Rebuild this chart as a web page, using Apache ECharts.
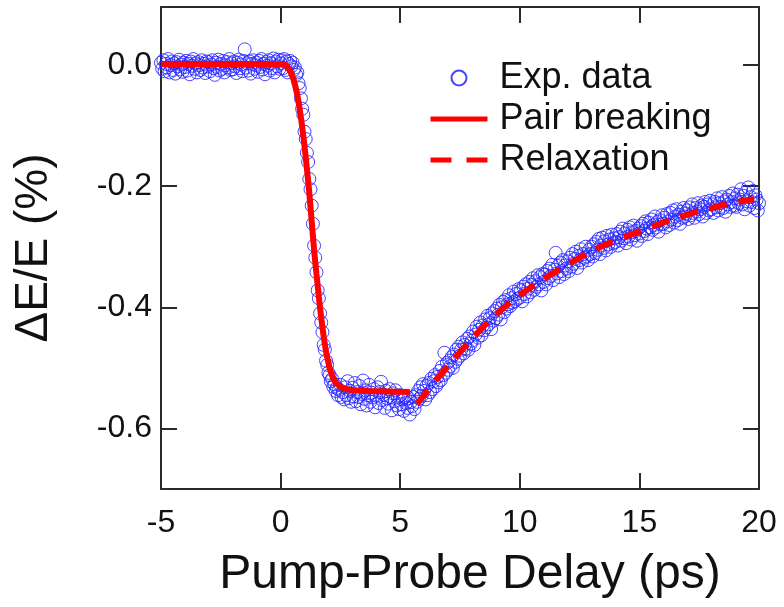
<!DOCTYPE html>
<html>
<head>
<meta charset="utf-8">
<script src="https://cdn.jsdelivr.net/npm/echarts@6/dist/echarts.min.js"></script>
<style>
  html, body { margin: 0; padding: 0; background: #fff; }
  #chart { width: 784px; height: 607px; }
</style>
</head>
<body>
<div id="chart"></div>
<script>
// Experimental trace: delay grid start/step (ps) and measured ΔE/E (%)
const expStart = -5;
const expStep = 0.05;
const expValues = [
  0.004, -0.006, 0.008, -0.010, 0.002, -0.004, 0.010, -0.012, 0.000, 0.006, -0.008, 0.003, -0.014, 0.005, -0.002, 0.009, -0.007, 0.001, -0.011, 0.004,
  -0.003, 0.007, -0.009, 0.002, -0.015, 0.006, -0.001, 0.010, -0.006, 0.003, -0.012, 0.005, 0.000, -0.008, 0.008, -0.004, 0.002, -0.013, 0.006, -0.002,
  0.005, -0.010, 0.001, 0.008, -0.005, -0.016, 0.004, -0.003, 0.009, -0.009, 0.002, -0.006, 0.007, -0.012, 0.000, 0.005, -0.004, 0.010, -0.008, 0.003,
  -0.007, 0.006, -0.002, -0.013, 0.004, 0.009, -0.005, 0.001, -0.010, 0.007, 0.026, -0.004, 0.003, -0.009, 0.006, -0.014, 0.002, 0.008, -0.006, 0.000,
  0.004, -0.011, 0.007, -0.003, 0.010, -0.007, 0.002, -0.015, 0.005, -0.001, 0.008, -0.009, 0.003, -0.005, 0.011, -0.012, 0.006, -0.002, 0.009, -0.006,
  0.003, 0.008, -0.005, 0.010, -0.008, 0.006, -0.012, 0.002, 0.007, -0.002, 0.004, -0.008, -0.004, -0.016, -0.012, -0.030, -0.038, -0.055, -0.072, -0.082,
  -0.110, -0.122, -0.145, -0.160, -0.188, -0.205, -0.232, -0.262, -0.298, -0.318, -0.342, -0.372, -0.385, -0.410, -0.425, -0.441, -0.462, -0.470, -0.488, -0.495,
  -0.508, -0.512, -0.522, -0.518, -0.531, -0.527, -0.538, -0.533, -0.545, -0.536, -0.528, -0.548, -0.540, -0.552, -0.532, -0.545, -0.522, -0.550, -0.538, -0.556,
  -0.533, -0.547, -0.525, -0.555, -0.540, -0.548, -0.530, -0.560, -0.543, -0.521, -0.551, -0.537, -0.562, -0.545, -0.528, -0.556, -0.541, -0.549, -0.535, -0.565,
  -0.546, -0.532, -0.558, -0.540, -0.523, -0.553, -0.544, -0.566, -0.538, -0.550, -0.559, -0.535, -0.548, -0.570, -0.542, -0.555, -0.537, -0.562, -0.549, -0.568,
  -0.545, -0.560, -0.552, -0.571, -0.548, -0.558, -0.566, -0.550, -0.577, -0.556, -0.563, -0.548, -0.568, -0.545, -0.556, -0.538, -0.551, -0.532, -0.546, -0.527,
  -0.538, -0.552, -0.530, -0.545, -0.525, -0.540, -0.518, -0.535, -0.522, -0.512, -0.530, -0.515, -0.524, -0.505, -0.520, -0.498, -0.512, -0.475, -0.508, -0.492,
  -0.503, -0.488, -0.497, -0.482, -0.500, -0.478, -0.490, -0.470, -0.485, -0.465, -0.480, -0.470, -0.458, -0.476, -0.462, -0.468, -0.452, -0.470, -0.448, -0.460,
  -0.455, -0.440, -0.462, -0.445, -0.432, -0.450, -0.437, -0.425, -0.446, -0.430, -0.438, -0.420, -0.433, -0.414, -0.428, -0.418, -0.436, -0.410, -0.422, -0.406,
  -0.418, -0.402, -0.412, -0.396, -0.420, -0.400, -0.391, -0.408, -0.388, -0.402, -0.395, -0.380, -0.398, -0.385, -0.392, -0.374, -0.390, -0.378, -0.386, -0.370,
  -0.384, -0.372, -0.390, -0.366, -0.378, -0.362, -0.382, -0.369, -0.358, -0.375, -0.363, -0.352, -0.371, -0.357, -0.366, -0.347, -0.362, -0.350, -0.372, -0.345,
  -0.358, -0.346, -0.362, -0.340, -0.352, -0.336, -0.348, -0.330, -0.355, -0.338, -0.310, -0.344, -0.332, -0.350, -0.326, -0.340, -0.322, -0.345, -0.331, -0.336,
  -0.324, -0.340, -0.318, -0.333, -0.312, -0.328, -0.320, -0.308, -0.335, -0.315, -0.322, -0.304, -0.326, -0.312, -0.318, -0.300, -0.316, -0.322, -0.305, -0.312,
  -0.300, -0.316, -0.296, -0.310, -0.292, -0.305, -0.287, -0.312, -0.298, -0.285, -0.302, -0.291, -0.306, -0.282, -0.296, -0.288, -0.300, -0.280, -0.294, -0.286,
  -0.292, -0.279, -0.298, -0.284, -0.275, -0.290, -0.270, -0.286, -0.278, -0.294, -0.272, -0.283, -0.268, -0.288, -0.276, -0.265, -0.281, -0.274, -0.290, -0.270,
  -0.278, -0.266, -0.282, -0.262, -0.274, -0.258, -0.270, -0.279, -0.260, -0.268, -0.255, -0.272, -0.264, -0.250, -0.268, -0.259, -0.275, -0.256, -0.263, -0.248,
  -0.262, -0.252, -0.268, -0.246, -0.258, -0.264, -0.244, -0.255, -0.240, -0.260, -0.250, -0.238, -0.256, -0.247, -0.262, -0.242, -0.252, -0.236, -0.250, -0.245,
  -0.240, -0.254, -0.235, -0.248, -0.230, -0.244, -0.252, -0.236, -0.242, -0.228, -0.246, -0.238, -0.232, -0.250, -0.234, -0.226, -0.244, -0.230, -0.240, -0.224,
  -0.238, -0.230, -0.244, -0.226, -0.235, -0.220, -0.240, -0.228, -0.234, -0.218, -0.236, -0.225, -0.242, -0.222, -0.230, -0.216, -0.234, -0.226, -0.212, -0.232,
  -0.220, -0.234, -0.214, -0.228, -0.222, -0.205, -0.230, -0.216, -0.238, -0.210, -0.225, -0.202, -0.232, -0.218, -0.226, -0.208, -0.236, -0.215, -0.222, -0.240,
  -0.228
];

// Pair-breaking fit (solid)
const pairDelay = [-5, -4, -3, -2, -1, -0.5, 0, 0.2, 0.3, 0.4, 0.5, 0.6, 0.7, 0.8, 0.9, 1.0, 1.1, 1.2, 1.3, 1.4, 1.5, 1.6, 1.7, 1.8, 1.9, 2.0, 2.1, 2.2, 2.3, 2.4, 2.6, 2.9, 3.5, 4.5, 5.4];
const pairValue = [0.002, 0.002, 0.002, 0.002, 0.002, 0.002, 0.001, 0.000, -0.004, -0.010, -0.019, -0.032, -0.050, -0.073, -0.101, -0.134, -0.171, -0.211, -0.258, -0.305, -0.345, -0.383, -0.418, -0.448, -0.473, -0.492, -0.507, -0.517, -0.524, -0.528, -0.533, -0.536, -0.538, -0.539, -0.540];

// Relaxation fit (dashed)
const relaxDelay = [5.7, 6.0, 6.5, 7.0, 7.5, 8.0, 8.5, 9.0, 9.5, 10.0, 10.5, 11.0, 11.5, 12.0, 12.5, 13.0, 13.5, 14.0, 14.5, 15.0, 15.5, 16.0, 16.5, 17.0, 17.5, 18.0, 18.5, 19.0, 19.5, 19.8];
const relaxValue = [-0.560, -0.545, -0.520, -0.497, -0.474, -0.452, -0.431, -0.412, -0.395, -0.380, -0.366, -0.353, -0.341, -0.329, -0.318, -0.307, -0.298, -0.289, -0.282, -0.275, -0.267, -0.260, -0.253, -0.247, -0.241, -0.236, -0.231, -0.227, -0.223, -0.221];

// Axis ticks
const xTicks = [-5, 0, 5, 10, 15, 20];
const yTicks = [-0.6, -0.4, -0.2, 0.0];

const FONT = "'Liberation Sans', Arial, Helvetica, sans-serif";
const INK = '#111';
const FRAME = '#2a2a2a';
const RED = '#ff0000';
const BLUE = '#2424ff';

const expData = expValues.map((v, i) => [+(expStart + i * expStep).toFixed(2), v]);
const pairData = pairDelay.map((t, i) => [t, pairValue[i]]);
const relaxData = relaxDelay.map((t, i) => [t, relaxValue[i]]);

const chart = echarts.init(document.getElementById('chart'), null, { renderer: 'canvas' });

const xCommon = {
  type: 'value', min: -5, max: 20, interval: 5,
  splitLine: { show: false },
  axisLine: { show: true, onZero: false, lineStyle: { color: FRAME, width: 2 } },
  axisTick: { show: true, inside: true, length: 16, lineStyle: { color: FRAME, width: 2 } }
};
const yCommon = {
  type: 'value', min: -0.7, max: 0.096,
  splitLine: { show: false },
  axisLine: { show: true, onZero: false, lineStyle: { color: FRAME, width: 2 } },
  axisTick: { show: true, inside: true, length: 16, customValues: yTicks, lineStyle: { color: FRAME, width: 2 } }
};

// Legend line swatches: thick line only, no marker dot
const lineSwatch = { itemStyle: { opacity: 0 } };

chart.setOption({
  animation: false,
  backgroundColor: '#fff',
  grid: { left: 161, right: 25, top: 7, bottom: 118, containLabel: false },
  xAxis: [
    Object.assign({}, xCommon, {
      position: 'bottom',
      name: 'Pump-Probe Delay (ps)',
      nameLocation: 'middle',
      nameGap: 62,
      nameTextStyle: { fontFamily: FONT, fontSize: 48, color: INK, padding: [0, 0, 0, 20] },
      axisLabel: {
        show: true, margin: 18, fontFamily: FONT, fontSize: 32, color: INK,
        customValues: xTicks,
        formatter: v => String(v)
      }
    }),
    Object.assign({}, xCommon, { position: 'top', axisLabel: { show: false } })
  ],
  yAxis: [
    Object.assign({}, yCommon, {
      position: 'left',
      name: 'ΔE/E (%)',
      nameLocation: 'middle',
      nameGap: 104,
      nameTextStyle: { fontFamily: FONT, fontSize: 46, color: INK },
      axisLabel: {
        show: true, margin: 9, fontFamily: FONT, fontSize: 32, color: INK,
        customValues: yTicks,
        formatter: v => v.toFixed(1)
      }
    }),
    Object.assign({}, yCommon, { position: 'right', axisLabel: { show: false } })
  ],
  legend: {
    orient: 'vertical',
    left: 423,
    top: 55,
    itemWidth: 57,
    itemHeight: 15,
    itemGap: 5,
    textStyle: { fontFamily: FONT, fontSize: 36, color: INK, lineHeight: 36, padding: [0, 0, 0, 7] },
    data: [
      { name: 'Exp. data' },
      Object.assign({ name: 'Pair breaking', lineStyle: { color: RED, width: 5, type: 'solid' } }, lineSwatch),
      Object.assign({ name: 'Relaxation', lineStyle: { color: RED, width: 5, type: [21, 15] } }, lineSwatch)
    ]
  },
  series: [
    {
      name: 'Exp. data',
      type: 'scatter',
      data: expData,
      symbol: 'circle',
      symbolSize: 13,
      clip: false,
      z: 2,
      itemStyle: { color: 'rgba(0,0,0,0)', borderColor: BLUE, borderWidth: 1, opacity: 0.85 }
    },
    {
      name: 'Pair breaking',
      type: 'line',
      data: pairData,
      showSymbol: false,
      symbol: 'none',
      smooth: 0.2,
      z: 3,
      itemStyle: { color: RED },
      lineStyle: { color: RED, width: 6 }
    },
    {
      name: 'Relaxation',
      type: 'line',
      data: relaxData,
      showSymbol: false,
      symbol: 'none',
      smooth: 0.2,
      z: 3,
      itemStyle: { color: RED },
      lineStyle: { color: RED, width: 6, type: [18, 12] }
    }
  ]
});
</script>
</body>
</html>
